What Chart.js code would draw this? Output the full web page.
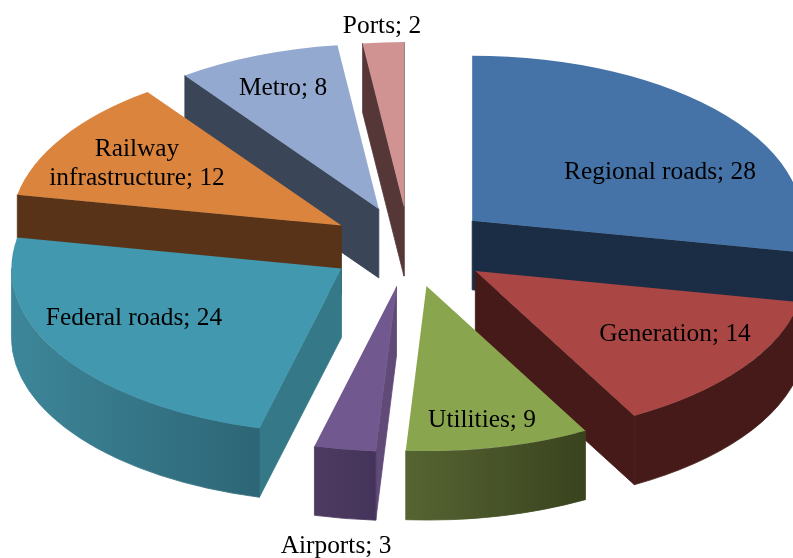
<!DOCTYPE html>
<html>
<head>
<meta charset="utf-8">
<title>Infrastructure pie</title>
<script src="https://cdn.jsdelivr.net/npm/chart.js@4/dist/chart.umd.min.js"></script>
<style>
  html, body { margin: 0; padding: 0; background: #fff; }
  canvas { display: block; }
</style>
</head>
<body>
<canvas id="chart" width="793" height="558"></canvas>
<script>
/*************** Data *************************************/

var categories = ["Regional roads", "Generation", "Utilities", "Airports", "Federal roads", "Railway\ninfrastructure", "Metro", "Ports"];
var values = [28, 14, 9, 3, 24, 12, 8, 2];

/*************** Look of the 3D pie ****************/

var topColors = ["#4573a7", "#aa4644", "#89a64e", "#71588f", "#4298af", "#db843d", "#93a9cf", "#d19392"];
var faceColors = ["#1a2d44", "#461a19", "#3d4a20", "#5f4a78", "#357888", "#583318", "#3a4558", "#553737"];
var wallLeft = ["#1a2d44", "#461a19", "#566432", "#4e3b62", "#3d8699", "#583318", "#3a4558", "#553737"];
var wallRight = ["#1a2d44", "#461a19", "#39431e", "#44335a", "#2d6676", "#583318", "#3a4558", "#553737"];
var explode = [82, 82, 80, 80, 80, 80, 82, 80];
var labelX = [660, 675, 482, 336, 134, 137, 283, 382];
var labelY = [172, 334, 420, 546, 318, 149, 88, 26];

var tilt = 0.5;
var depth = 69;
var pieRadius = 330;
var lineHeight = 29;

/*************** Drawing the slices ****************/

function sideFace(ctx, x, y, angle, radius, color) {
    ctx.fillStyle = color;
    ctx.strokeStyle = color;
    ctx.lineWidth = 0.8;
    ctx.beginPath();
    ctx.moveTo(x, y);
    ctx.lineTo(x + Math.cos(angle) * radius, y + Math.sin(angle) * radius * tilt);
    ctx.lineTo(x + Math.cos(angle) * radius, y + Math.sin(angle) * radius * tilt + depth);
    ctx.lineTo(x, y + depth);
    ctx.closePath();
    ctx.fill();
    ctx.stroke();
}

function outerWall(ctx, x, y, from, to, radius, i) {
    var left = x + Math.cos(to) * radius;
    var right = x + Math.cos(from) * radius;
    var gradient = ctx.createLinearGradient(left, 0, right, 0);
    gradient.addColorStop(0, wallLeft[i]);
    gradient.addColorStop(1, wallRight[i]);
    ctx.fillStyle = gradient;
    ctx.strokeStyle = gradient;
    ctx.lineWidth = 0.8;
    ctx.beginPath();
    ctx.ellipse(x, y, radius, radius * tilt, 0, from, to);
    ctx.ellipse(x, y + depth, radius, radius * tilt, 0, to, from, true);
    ctx.closePath();
    ctx.fill();
    ctx.stroke();
}

function drawSlice(ctx, arc, i) {
    var mid = (arc.startAngle + arc.endAngle) / 2;
    var x = arc.x + Math.cos(mid) * explode[i];
    var y = arc.y + Math.sin(mid) * explode[i] * tilt;
    var radius = arc.outerRadius;

    if (Math.cos(arc.startAngle) < 0) {
        sideFace(ctx, x, y, arc.startAngle, radius, faceColors[i]);
    }
    if (Math.cos(arc.endAngle) > 0) {
        sideFace(ctx, x, y, arc.endAngle, radius, faceColors[i]);
    }
    var from = Math.max(arc.startAngle, 0);
    var to = Math.min(arc.endAngle, Math.PI);
    if (to > from) {
        outerWall(ctx, x, y, from, to, radius, i);
    }

    // top of the slice is the library's own arc, squashed and moved out
    ctx.save();
    ctx.translate(x, y);
    ctx.scale(1, tilt);
    ctx.translate(-arc.x, -arc.y);
    arc.draw(ctx);
    ctx.restore();
}

function drawLabels(ctx) {
    ctx.fillStyle = "#000";
    ctx.font = "25.4px 'Liberation Serif'";
    ctx.textAlign = "center";
    ctx.textBaseline = "middle";
    for (var i = 0; i < categories.length; i++) {
        var lines = (categories[i] + "; " + values[i]).split("\n");
        for (var n = 0; n < lines.length; n++) {
            ctx.fillText(lines[n], labelX[i], labelY[i] + n * lineHeight);
        }
    }
}

var pie3d = {
    id: "pie3d",
    beforeDatasetsDraw: function (chart) {
        var ctx = chart.ctx;
        var arcs = chart.getDatasetMeta(0).data;
        // back slices first, so the front ones cover their walls
        var order = arcs.map(function (arc, i) { return i; });
        order.sort(function (a, b) {
            return Math.sin((arcs[a].startAngle + arcs[a].endAngle) / 2) - Math.sin((arcs[b].startAngle + arcs[b].endAngle) / 2);
        });
        order.forEach(function (i) { drawSlice(ctx, arcs[i], i); });
        drawLabels(ctx);
        return false;
    }
};

/*************** Creating chart ****************/

new Chart(document.getElementById("chart"), {
    type: "pie",
    data: {
        labels: categories,
        datasets: [{ data: values, backgroundColor: topColors, borderWidth: 0 }]
    },
    options: {
        responsive: false,
        animation: false,
        radius: pieRadius,
        layout: { padding: { left: 25, bottom: 64 } },
        plugins: { legend: { display: false }, tooltip: { enabled: false } }
    },
    plugins: [pie3d]
});
</script>
</body>
</html>
